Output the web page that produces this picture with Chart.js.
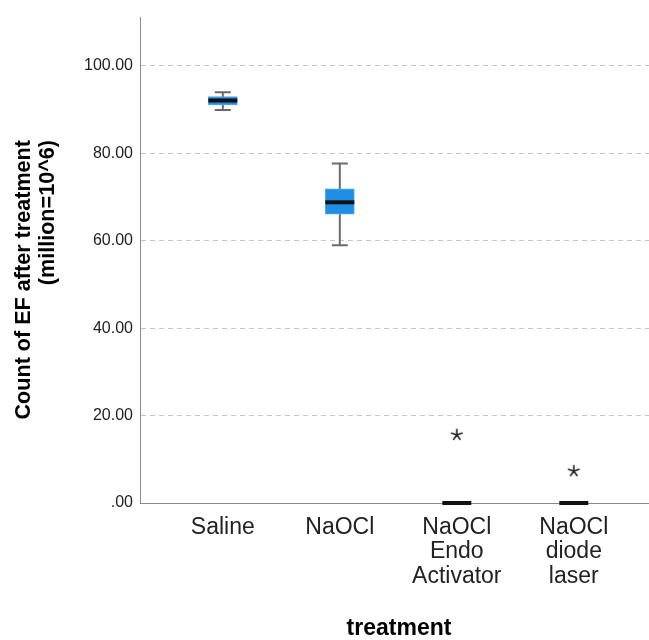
<!DOCTYPE html>
<html><head><meta charset="utf-8">
<script src="https://cdn.jsdelivr.net/npm/chart.js@4.4.0/dist/chart.umd.min.js"></script>
<style>html,body{margin:0;padding:0;background:#fff;}</style>
</head><body>
<canvas id="c" width="649" height="640"></canvas>
<script>
const categories = [["Saline"], ["NaOCl"], ["NaOCl", "Endo", "Activator"], ["NaOCl", "diode", "laser"]];
const whiskerLow  = [89.9, 59.0, 0, 0];
const q1          = [91.1, 66.1, 0, 0];
const median      = [92.1, 68.8, 0, 0];
const q3          = [93.0, 71.9, 0, 0];
const whiskerHigh = [94.0, 77.7, 0, 0];
const outlierGroup = [2, 3];
const outlierValue = [15.6, 7.3];
const yTicks = [0, 20, 40, 60, 80, 100];
const yTitleLines = ["Count of EF after treatment", "(million=10^6)"];
const xTitle = "treatment";

// asterisk marker (5 arms) used as point style for outliers
const starMarker = (() => {
  const s = 14, c = document.createElement('canvas');
  c.width = s; c.height = s;
  const g = c.getContext('2d');
  g.strokeStyle = '#222'; g.lineWidth = 1.6; g.lineCap = 'round';
  g.beginPath();
  for (let k = 0; k < 5; k++) {
    const a = -Math.PI / 2 + k * 2 * Math.PI / 5;
    g.moveTo(s / 2, s / 2);
    g.lineTo(s / 2 + 5.5 * Math.cos(a), s / 2 + 5.5 * Math.sin(a));
  }
  g.stroke();
  return c;
})();

const boxPlugin = {
  id: 'boxes',
  beforeDatasetsDraw(chart) {
    const {ctx, scales: {x, y}} = chart;
    ctx.save();
    ctx.strokeStyle = '#6b6b6b';
    ctx.lineWidth = 2;
    categories.forEach((c, i) => {
      if (whiskerHigh[i] === whiskerLow[i]) return;
      const px = x.getPixelForValue(i);
      const yl = y.getPixelForValue(whiskerLow[i]);
      const yh = y.getPixelForValue(whiskerHigh[i]);
      ctx.beginPath();
      ctx.moveTo(px, yl); ctx.lineTo(px, yh);
      ctx.moveTo(px - 8, yl); ctx.lineTo(px + 8, yl);
      ctx.moveTo(px - 8, yh); ctx.lineTo(px + 8, yh);
      ctx.stroke();
    });
    ctx.restore();
  },
  afterDatasetsDraw(chart) {
    const {ctx, scales: {x, y}} = chart;
    ctx.save();
    ctx.strokeStyle = '#111';
    ctx.lineWidth = 4;
    categories.forEach((c, i) => {
      const px = x.getPixelForValue(i);
      const py = y.getPixelForValue(median[i]);
      ctx.beginPath();
      ctx.moveTo(px - 14.5, py); ctx.lineTo(px + 14.5, py);
      ctx.stroke();
    });
    ctx.restore();
  },
  afterDraw(chart) {
    const ctx = chart.ctx;
    ctx.save();
    ctx.font = 'bold 21.6px "Liberation Sans", Arial, sans-serif';
    ctx.fillStyle = '#000';
    ctx.textAlign = 'right';
    ctx.textBaseline = 'middle';
    const xs = [24, 48];
    yTitleLines.forEach((t, k) => {
      ctx.save();
      ctx.translate(xs[k], 140);
      ctx.rotate(-Math.PI / 2);
      ctx.fillText(t, 0, 0);
      ctx.restore();
    });
    ctx.font = 'bold 23px "Liberation Sans", Arial, sans-serif';
    ctx.textAlign = 'center';
    ctx.fillText(xTitle, 399, 629);
    ctx.restore();
  }
};

new Chart(document.getElementById('c'), {
  type: 'bar',
  data: {
    datasets: [
      {
        type: 'bar',
        data: categories.map((c, i) => ({x: i, y: [q1[i], q3[i]]})),
        backgroundColor: '#1f8fe6',
        borderColor: '#4fa7ee',
        borderWidth: 1,
        borderSkipped: false,
        barThickness: 29,
        order: 2
      },
      {
        type: 'scatter',
        data: outlierGroup.map((g, k) => ({x: g, y: outlierValue[k]})),
        pointStyle: starMarker,
        radius: 7,
        order: 1
      }
    ]
  },
  options: {
    responsive: false,
    animation: false,
    plugins: {legend: {display: false}, tooltip: {enabled: false}},
    layout: {autoPadding: false, padding: {top: 17, right: 0, left: 0, bottom: 0}},
    scales: {
      x: {
        type: 'linear',
        offset: false,
        min: -0.708,
        max: 3.643,
        afterBuildTicks: s => { s.ticks = categories.map((c, i) => ({value: i})); },
        ticks: {
          callback: v => categories[v],
          font: {family: 'Liberation Sans', size: 23, lineHeight: 1.065},
          color: '#222',
          padding: 12,
          maxRotation: 0,
          autoSkip: false
        },
        grid: {display: false, drawTicks: false},
        border: {display: true, color: '#8a8a8a', width: 1},
        title: {display: false},
        afterFit: s => { s.height = 137; s.paddingLeft = 0; s.paddingRight = 0; }
      },
      y: {
        min: 0,
        max: 111.2,
        afterBuildTicks: s => { s.ticks = yTicks.map(v => ({value: v})); },
        ticks: {
          callback: v => v === 0 ? '.00' : v.toFixed(2),
          font: {family: 'Liberation Sans', size: 16},
          color: '#222',
          padding: 7
        },
        grid: {
          drawTicks: false,
          color: c => (c.tick && c.tick.value === 0) ? 'rgba(0,0,0,0)' : '#c4c4c4',
          lineWidth: 1
        },
        border: {display: true, color: '#8a8a8a', width: 1, dash: [5, 4]},
        afterFit: s => { s.width = 140; }
      }
    }
  },
  plugins: [boxPlugin]
});
</script>
</body></html>
